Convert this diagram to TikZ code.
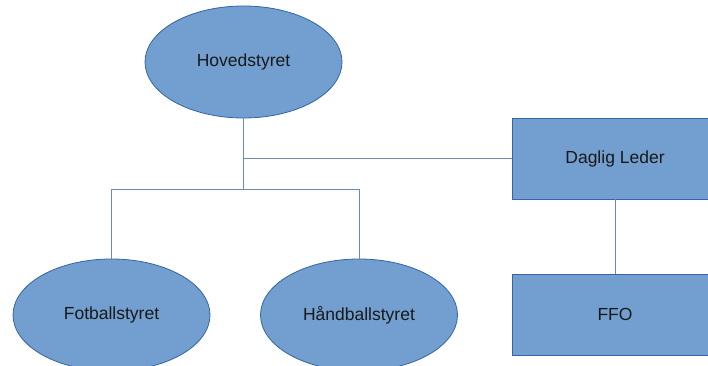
\documentclass[tikz,border=0pt]{standalone}
\usepackage{fontspec}
\setmainfont{Liberation Sans}
\usetikzlibrary{shapes.geometric}
\definecolor{boxfill}{RGB}{114,159,207}
\definecolor{boxline}{RGB}{52,101,164}
\definecolor{conline}{RGB}{108,138,172}
\begin{document}
\begin{tikzpicture}[x=1pt,y=-1pt,
  every node/.style={font=\fontsize{17.5}{20}\selectfont, text=black!90},
  ell/.style={ellipse, draw=boxline, fill=boxfill, line width=0.8pt, inner sep=0pt, minimum width=197pt, minimum height=112pt},
  boxn/.style={rectangle, draw=boxline, fill=boxfill, line width=0.8pt, inner sep=0pt, minimum width=206pt, minimum height=81pt},
  con/.style={draw=conline, line width=0.9pt}]
\useasboundingbox (0,0) rectangle (708,366);
\clip (0,0) rectangle (708,366);
\fill[white] (0,0) rectangle (708,366);
\coordinate (j) at (243.5,189);
\coordinate (k) at (243.5,158.5);
\node[ell] (hov) at (243.5,62) {Hovedstyret};
\node[boxn] (dag) at (615,158.5) {Daglig Leder};
\node[boxn] (ffo) at (615,314.5) {FFO};
\node[ell] (fot) at (111.5,315) {Fotballstyret};
\node[ell] (han) at (359,315) {Håndballstyret};
\draw[con] (hov.south) -- (j);
\draw[con] (j) -| (fot.north);
\draw[con] (j) -| (han.north);
\draw[con] (k) -- (k -| dag.west);
\draw[con] (dag.south) -- (ffo.north);
\end{tikzpicture}
\end{document}
